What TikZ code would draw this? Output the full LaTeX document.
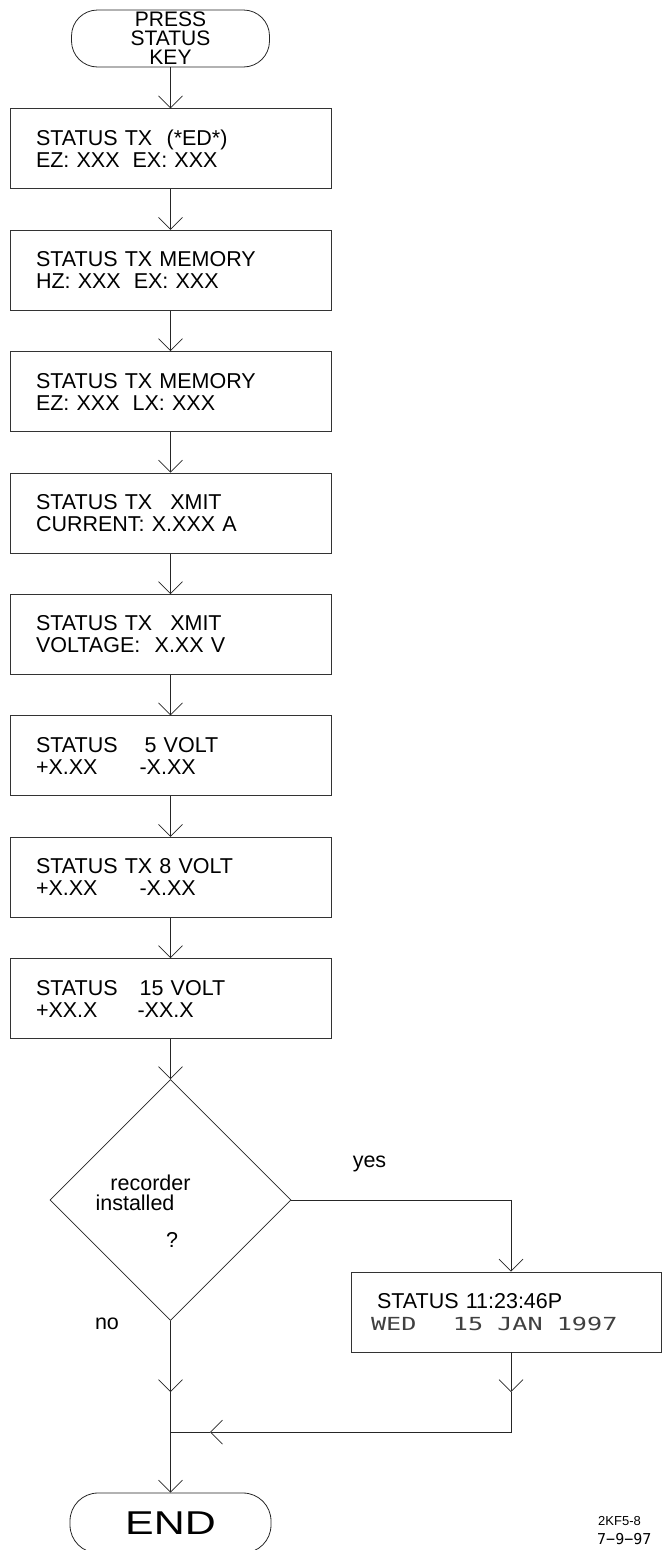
\documentclass[tikz,border=0pt]{standalone}
\usepackage{fontspec}
\setmainfont{Liberation Sans}
\newfontfamily\lcdfont{DejaVu Sans Mono}
\usetikzlibrary{positioning,shapes.geometric,arrows.meta}

\tikzset{
  statbox/.style={draw=black!80, line width=0.9pt, rectangle, minimum width=321pt,
    minimum height=80pt, inner xsep=26pt, inner ysep=0pt, text width=269pt, align=left,
    font=\fontsize{21.5}{22}\selectfont},
  termbox/.style={draw=black!85, line width=0.8pt, rounded corners=26pt, minimum width=198pt,
    minimum height=57pt, inner sep=0pt, align=center},
  decbox/.style={draw=black!85, line width=0.7pt, diamond, minimum width=241pt,
    minimum height=241pt, inner sep=0pt},
  flow/.style={line width=0.7pt, draw=black!85},
  vtip/.style={-{Straight Barb[length=12pt,width=24pt]}},
  lbl/.style={inner sep=0pt, font=\fontsize{21.5}{22}\selectfont},
}

\begin{document}
\begin{tikzpicture}[x=1pt,y=-1pt]
  %%%%% START %%%%%
  \clip (0,0) rectangle (662,1550);

  \node[termbox, font=\fontsize{21}{19}\selectfont] (press) at (170.5,38.5) {PRESS\\STATUS\\KEY};

  \node[statbox, below=41pt of press] (edbox) {STATUS TX\ \ (*ED*)\\EZ: XXX\hspace{13pt}EX: XXX};
  \node[statbox, below=40.5pt of edbox] (hzbox) {STATUS TX MEMORY\\HZ: XXX\hspace{13pt}EX: XXX};
  \node[statbox, below=40.5pt of hzbox] (lxbox) {STATUS TX MEMORY\\EZ: XXX\hspace{13pt}LX: XXX};
  \node[statbox, below=40.5pt of lxbox] (curbox) {STATUS TX\hspace{18pt}XMIT\\CURRENT: X.XXX A};
  \node[statbox, below=40.5pt of curbox] (volbox) {STATUS TX\hspace{18pt}XMIT\\VOLTAGE:\ \ X.XX V};
  \node[statbox, below=40.5pt of volbox] (fivebox) {STATUS\hspace{27pt}5 VOLT\\+X.XX\hspace{42pt}-X.XX};
  \node[statbox, below=40.5pt of fivebox] (eightbox) {STATUS TX 8 VOLT\\+X.XX\hspace{42pt}-X.XX};
  \node[statbox, below=40.5pt of eightbox] (fifbox) {STATUS\hspace{22pt}15 VOLT\\+XX.X\hspace{40pt}-XX.X};

  \node[decbox, below=40pt of fifbox] (dec) {};
  \node[lbl] (qrec) at (150.5,1183) {recorder};
  \node[lbl] (qins) at (135,1203) {installed};
  \node[lbl] (qmark) at (172,1240) {?};
  \node[lbl] (yes) at (369.5,1164) {yes};
  \node[lbl] (no) at (107,1324) {no};

  \node[statbox, minimum width=310pt, text width=270pt, inner xsep=20pt] (rec) at (506,1312)
    {\hspace{6pt}STATUS 11:23:46P\\{\lcdfont\fontsize{18}{22}\selectfont\color{black!75}\scalebox{1.4}[1]{WED\hspace{26pt}15\hspace{10pt}JAN\hspace{10pt}1997}}};

  \node[termbox, minimum width=201pt, minimum height=60pt, rounded corners=28pt,
    font=\fontsize{33}{33}\selectfont] (endkey) at (170.5,1523) {\scalebox{1.3}[1]{END}};

  \node[anchor=west, inner sep=0pt, font=\fontsize{13}{13}\selectfont] (dwg) at (598,1521) {2KF5-8};
  \node[anchor=west, inner sep=0pt, font=\lcdfont\fontsize{15}{15}\selectfont] (date) at (597,1539) {7−9−97};

  % main chain
  \foreach \a/\b in {press/edbox, edbox/hzbox, hzbox/lxbox, lxbox/curbox, curbox/volbox,
    volbox/fivebox, fivebox/eightbox, eightbox/fifbox, fifbox/dec}
    \draw[flow,vtip] (\a.south) -- (\b.north);

  % branches
  \coordinate (ycorner) at (511,1192);
  \coordinate (lvl1) at (0,1392);
  \coordinate (lvl2) at (0,1432);
  \coordinate (backtip) at (210,1432);

  \draw[flow] (dec.east) -- (dec.east -| ycorner);
  \draw[flow,vtip] (dec.east -| ycorner) -- (ycorner |- rec.north);
  \draw[flow,vtip] (ycorner |- rec.south) -- (ycorner |- lvl1);
  \draw[flow,vtip] (ycorner |- lvl1) -- (ycorner |- lvl2) -- (backtip);
  \draw[flow] (backtip) -- (dec.south |- lvl2);

  \draw[flow,vtip] (dec.south) -- (dec.south |- lvl1);
  \draw[flow,vtip] (dec.south |- lvl1) -- (endkey.north);

  %%%%% END %%%%%
\end{tikzpicture}
\end{document}
